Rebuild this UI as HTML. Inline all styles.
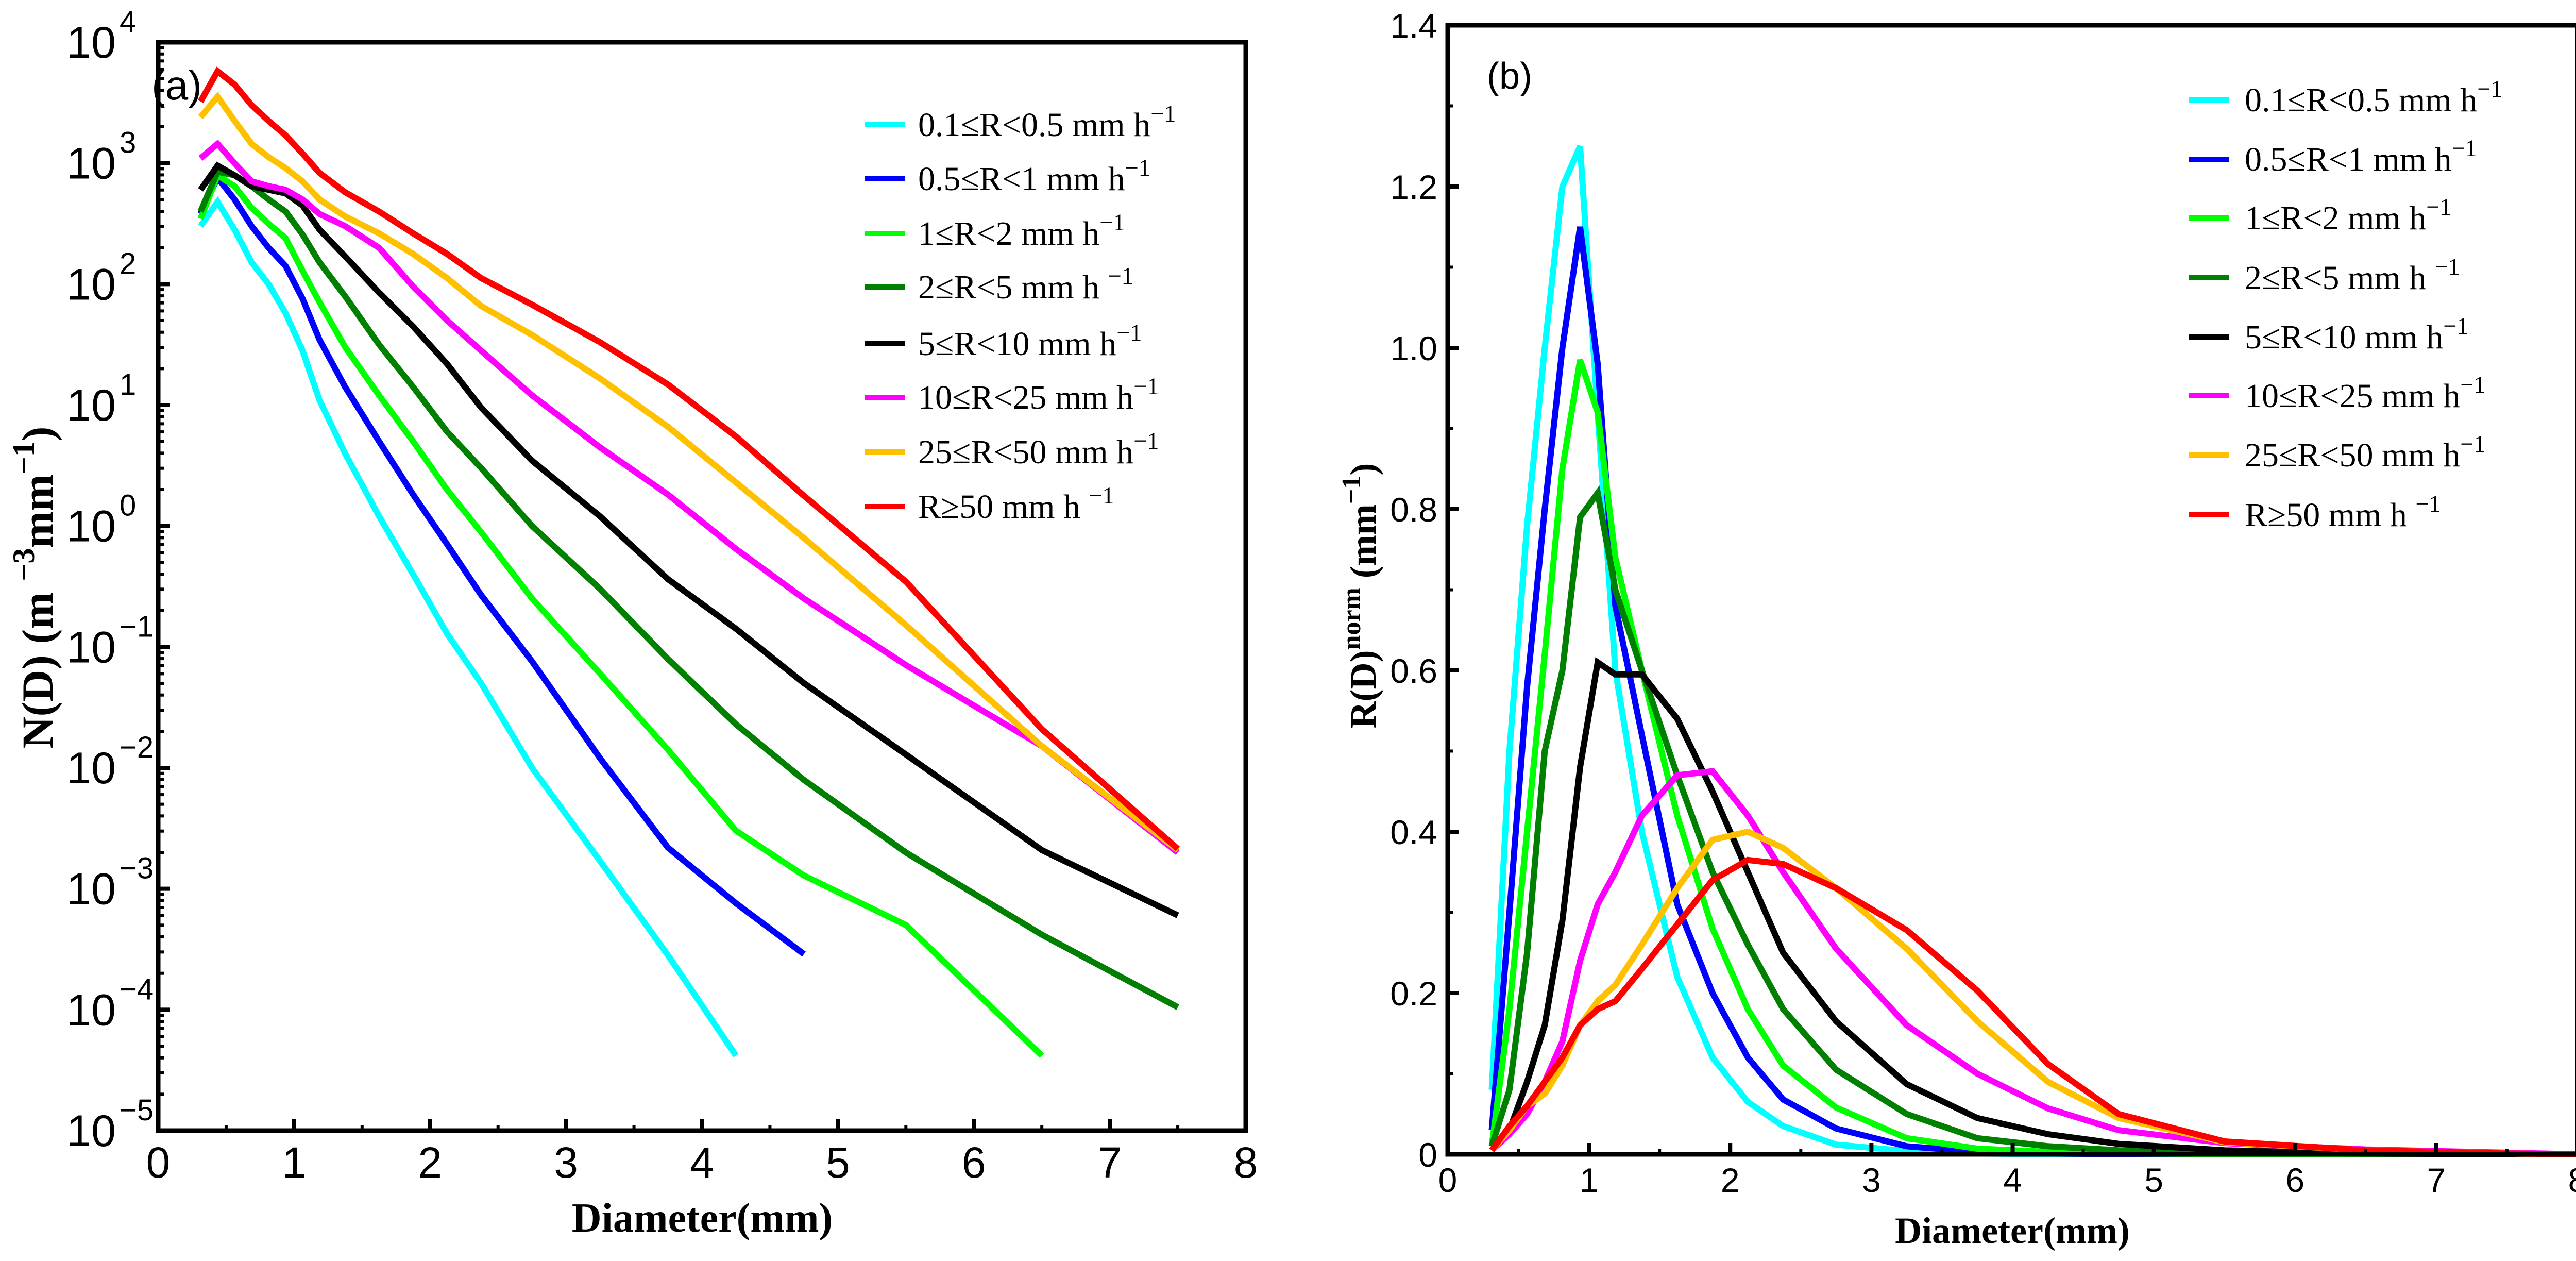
<!DOCTYPE html>
<html><head><meta charset="utf-8"><style>
body{margin:0;background:#fff}
svg{display:block}
text{fill:#000}
.tk{font-family:"Liberation Sans",sans-serif}
.ser{font-family:"Liberation Serif",serif}
</style></head><body>
<svg id="fig" width="5043" height="2447" viewBox="0 0 5043 2447" xmlns="http://www.w3.org/2000/svg"></svg>
<script>
const diameters=[0.312,0.437,0.562,0.687,0.812,0.937,1.062,1.187,1.375,1.625,1.875,2.125,2.375,2.75,3.25,3.75,4.25,4.75,5.5,6.5,7.5,8];
const seriesNames=["0.1≤R<0.5 mm h","0.5≤R<1 mm h","1≤R<2 mm h","2≤R<5 mm h ","5≤R<10 mm h","10≤R<25 mm h","25≤R<50 mm h","R≥50 mm h "];
const seriesColors=["#00ffff","#0000ff","#00ff00","#008000","#000000","#ff00ff","#ffc000","#ff0000"];
// panel (a): log10 N(D)
const ndCyan=[2.48,2.68,2.45,2.18,2.0,1.76,1.45,1.04,0.6,0.08,-0.4,-0.89,-1.3,-2.0,-2.77,-3.55,-4.38];
const ndBlue=[2.58,2.88,2.7,2.48,2.3,2.15,1.88,1.54,1.15,0.7,0.26,-0.15,-0.57,-1.12,-1.92,-2.66,-3.12,-3.54];
const ndGreen=[2.54,2.9,2.81,2.63,2.5,2.38,2.11,1.85,1.48,1.08,0.7,0.3,-0.05,-0.6,-1.22,-1.85,-2.52,-2.89,-3.3,-4.38];
const ndDkGreen=[2.6,2.93,2.9,2.81,2.7,2.6,2.41,2.18,1.9,1.5,1.15,0.78,0.48,0,-0.52,-1.1,-1.64,-2.1,-2.7,-3.38,-3.98];
const ndBlack=[2.78,2.98,2.9,2.81,2.78,2.75,2.65,2.45,2.23,1.93,1.65,1.34,0.98,0.54,0.08,-0.44,-0.85,-1.3,-1.89,-2.68,-3.22];
const ndMagenta=[3.04,3.16,3.0,2.85,2.81,2.78,2.7,2.58,2.48,2.3,1.98,1.7,1.45,1.08,0.65,0.26,-0.19,-0.6,-1.15,-1.82,-2.7];
const ndOrange=[3.38,3.55,3.35,3.16,3.05,2.96,2.85,2.7,2.56,2.42,2.25,2.05,1.82,1.58,1.22,0.82,0.36,-0.1,-0.82,-1.82,-2.68];
const ndRed=[3.51,3.76,3.65,3.48,3.35,3.23,3.08,2.92,2.76,2.6,2.42,2.25,2.05,1.83,1.52,1.17,0.74,0.25,-0.46,-1.68,-2.67];
// panel (b): R(D) norm
const rdCyan=[0.08,0.5,0.78,1.0,1.2,1.25,0.92,0.6,0.4,0.22,0.12,0.065,0.035,0.012,0.004,0.001,0.0003,0.0001,0,0,0,0];
const rdBlue=[0.03,0.3,0.58,0.8,1.0,1.15,0.98,0.68,0.52,0.31,0.2,0.12,0.068,0.032,0.01,0.003,0.001,0.0003,0,0,0,0];
const rdGreen=[0.01,0.18,0.4,0.62,0.85,0.985,0.92,0.74,0.6,0.42,0.28,0.18,0.11,0.058,0.02,0.007,0.003,0.001,0.0005,0.0001,0,0];
const rdDkGreen=[0.01,0.08,0.25,0.5,0.6,0.79,0.82,0.7,0.6,0.47,0.35,0.26,0.18,0.105,0.05,0.02,0.01,0.005,0.002,0.0008,0.0002,0];
const rdBlack=[0.005,0.03,0.09,0.16,0.29,0.48,0.61,0.595,0.595,0.54,0.45,0.35,0.25,0.165,0.087,0.045,0.025,0.013,0.005,0.001,0.0003,0];
const rdMagenta=[0.005,0.025,0.05,0.09,0.14,0.24,0.31,0.35,0.42,0.47,0.475,0.42,0.35,0.255,0.16,0.1,0.057,0.03,0.014,0.006,0.002,0];
const rdOrange=[0.005,0.03,0.06,0.075,0.11,0.16,0.19,0.21,0.26,0.33,0.39,0.4,0.38,0.33,0.255,0.165,0.09,0.045,0.015,0.005,0.001,0];
const rdRed=[0.005,0.035,0.06,0.09,0.12,0.16,0.18,0.19,0.23,0.285,0.34,0.365,0.36,0.33,0.278,0.203,0.112,0.05,0.016,0.005,0.001,0];
const xTicks=[0,1,2,3,4,5,6,7,8];
const logTicks=[4,3,2,1,0,-1,-2,-3,-4,-5];
const linTicks=["0","0.2","0.4","0.6","0.8","1.0","1.2","1.4"];

const NS="http://www.w3.org/2000/svg";
const svg=document.getElementById('fig');
function mk(tag,attrs,parent){const e=document.createElementNS(NS,tag);for(const k in attrs)e.setAttribute(k,attrs[k]);(parent||svg).appendChild(e);return e;}

const A={l:307,r:2418,t:82,b:2194};
const ax=d=>A.l+(d/8)*(A.r-A.l);
const ay=v=>A.b-(v+5)/9*(A.b-A.t);
const B={l:2810,r:5003,t:49,b:2240};
const bx=d=>B.l+(d/8)*(B.r-B.l);
const by=v=>B.b-(v/1.4)*(B.b-B.t);

function drawSeries(g,arr,xf,yf,color,name){
  let pts=arr.map((v,i)=>xf(diameters[i]).toFixed(1)+','+yf(v).toFixed(1)).join(' ');
  const p=mk('polyline',{points:pts,fill:'none',stroke:color,'stroke-width':12,'stroke-linejoin':'miter'},g);
  
  
}
function legend(g,lx,tx,ys,fs){
  seriesNames.forEach((n,i)=>{
    const ln=mk('line',{x1:lx,x2:lx+78,y1:ys[i],y2:ys[i],stroke:seriesColors[i],'stroke-width':10},g);
    
    
    const t=mk('text',{x:tx,y:ys[i]+22,'font-size':fs,class:'ser'},g);
    
    
    t.textContent=n;
    const s=mk('tspan',{dy:-28,'font-size':fs*0.7},t);s.textContent='−1';
  });
}

const gA=mk('g',{});


const aSeries=[ndCyan,ndBlue,ndGreen,ndDkGreen,ndBlack,ndMagenta,ndOrange,ndRed];
aSeries.forEach((s,i)=>drawSeries(gA,s,ax,ay,seriesColors[i],'nd-line-'+i));
logTicks.forEach(e=>{
  const y=ay(e);
  mk('line',{x1:A.l,x2:A.l+22,y1:y,y2:y,stroke:'#000','stroke-width':8},gA);
  if(e>-5)for(let m=2;m<10;m++){const y2=ay(e-1+Math.log10(m));mk('line',{x1:A.l,x2:A.l+11,y1:y2,y2:y2,stroke:'#000','stroke-width':6},gA);}
  const t=mk('text',{x:225,y:y+30,'font-size':86,class:'tk','text-anchor':'end'},gA);
  
  
  t.textContent='10';
  const sp=mk('tspan',{x:232,dy:-50,'font-size':58,'text-anchor':'start'},t);sp.textContent=(e<0?'−':'')+Math.abs(e);
});
xTicks.forEach(d=>{
  const x=ax(d);
  mk('line',{x1:x,x2:x,y1:A.b,y2:A.b-22,stroke:'#000','stroke-width':8},gA);
  if(d<8){const xm=ax(d+0.5);mk('line',{x1:xm,x2:xm,y1:A.b,y2:A.b-11,stroke:'#000','stroke-width':6},gA);}
  const t=mk('text',{x:x,y:2285,'font-size':84,class:'tk','text-anchor':'middle'},gA);
  
  
  t.textContent=d;
});
mk('rect',{x:A.l,y:A.t,width:A.r-A.l,height:A.b-A.t,fill:'none',stroke:'#000','stroke-width':9},gA);
legend(gA,1679,1782,[242,347,453,557,667,771,877,983],66);
</script>
<script>
(function(){
 const t1=mk('text',{x:343,y:193,'font-size':80,class:'tk','text-anchor':'middle'});
 
 
 t1.textContent='(a)';
 const xt=mk('text',{x:1363,y:2390,'font-size':80,class:'ser','font-weight':'bold','text-anchor':'middle'});
 
 
 xt.textContent='Diameter(mm)';
 const yt=mk('text',{x:0,y:0,'font-size':86,class:'ser','font-weight':'bold','text-anchor':'middle',transform:'translate(102,1140) rotate(-90)'});
 
 
 yt.innerHTML='N(D) (m <tspan dy="-36" font-size="60">−3</tspan><tspan dy="36">mm</tspan><tspan dy="-36" font-size="60">−1</tspan><tspan dy="36">)</tspan>';
})();

const gB=mk('g',{});


const bSeries=[rdCyan,rdBlue,rdGreen,rdDkGreen,rdBlack,rdMagenta,rdOrange,rdRed];
bSeries.forEach((s,i)=>drawSeries(gB,s,bx,by,seriesColors[i],'rd-line-'+i));
linTicks.forEach((lab,i)=>{
  const v=i*0.2,y=by(v);
  mk('line',{x1:B.l,x2:B.l+22,y1:y,y2:y,stroke:'#000','stroke-width':8},gB);
  if(i<7){const ym=by(v+0.1);mk('line',{x1:B.l,x2:B.l+11,y1:ym,y2:ym,stroke:'#000','stroke-width':6},gB);}
  const t=mk('text',{x:2790,y:y+24,'font-size':66,class:'tk','text-anchor':'end'},gB);
  
  
  t.textContent=lab;
});
xTicks.forEach(d=>{
  const x=bx(d);
  mk('line',{x1:x,x2:x,y1:B.b,y2:B.b-22,stroke:'#000','stroke-width':8},gB);
  if(d<8){const xm=bx(d+0.5);mk('line',{x1:xm,x2:xm,y1:B.b,y2:B.b-11,stroke:'#000','stroke-width':6},gB);}
  const t=mk('text',{x:x,y:2313,'font-size':66,class:'tk','text-anchor':'middle'},gB);
  
  
  t.textContent=d;
});
mk('rect',{x:B.l,y:B.t,width:B.r-B.l,height:B.b-B.t,fill:'none',stroke:'#000','stroke-width':9},gB);
legend(gB,4248,4357,[194,309,423,539,654,768,883,999],66);
(function(){
 const t1=mk('text',{x:2930,y:172,'font-size':72,class:'tk','text-anchor':'middle'});
 
 
 t1.textContent='(b)';
 const xt=mk('text',{x:3906,y:2412,'font-size':72,class:'ser','font-weight':'bold','text-anchor':'middle'});
 
 
 xt.textContent='Diameter(mm)';
 const yt=mk('text',{x:0,y:0,'font-size':72,class:'ser','font-weight':'bold','text-anchor':'middle',transform:'translate(2670,1156) rotate(-90)'});
 
 
 yt.innerHTML='R(D)<tspan dy="-30" font-size="52">norm</tspan><tspan dy="30"> (mm</tspan><tspan dy="-30" font-size="52">−1</tspan><tspan dy="30">)</tspan>';
})();
</script>
</body></html>
